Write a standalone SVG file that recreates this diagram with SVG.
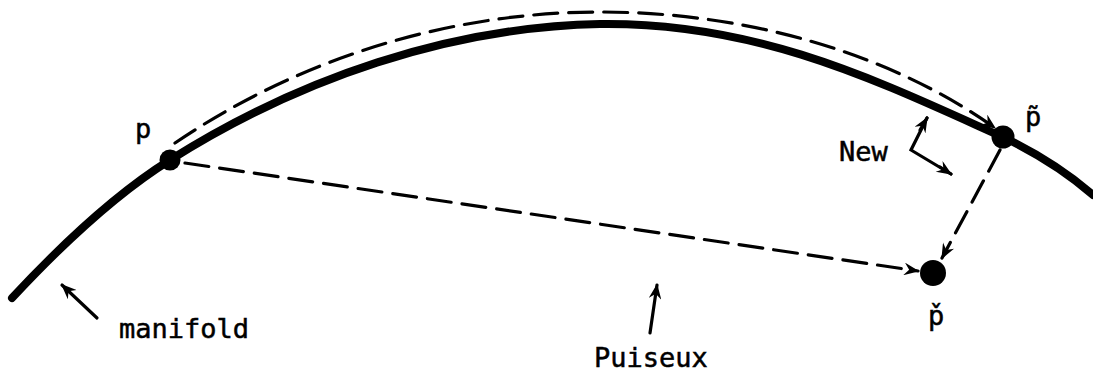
<svg xmlns="http://www.w3.org/2000/svg" width="1093" height="382" viewBox="0 0 1093 382">
<style>
.lbl{font-family:"DejaVu Sans Mono","Liberation Mono",monospace;font-size:27px;fill:#000;stroke:#000;stroke-width:0.5}
.dash{fill:none;stroke:#000;stroke-width:3.2;stroke-dasharray:24 11;stroke-linecap:round}
.thin{fill:none;stroke:#000;stroke-width:3.2;stroke-linecap:round}
</style>
<defs>
<marker id="ah" viewBox="0 0 12 10" refX="11" refY="5" markerWidth="5" markerHeight="4" orient="auto" markerUnits="strokeWidth">
<path d="M0,0 L12,5 L0,10 L4,5 Z" fill="#000"/>
</marker>
</defs>
<g id="connectors">
<path id="manifold-curve" d="M12,298 C80,225 130,185 170,160 C300,78 450,27 600,24 C760,22 880,82 1005,138 C1040,155 1070,175 1093,195" fill="none" stroke="#000" stroke-width="8" stroke-linecap="round"/>
<path d="M175,143 C300,58 450,12 600,12 C760,12 900,60 995,128" class="dash" marker-end="url(#ah)"/>
<path d="M185,163 L918,271" class="dash" marker-end="url(#ah)"/>
<path d="M1000,150 L942,258" class="dash" marker-end="url(#ah)"/>
<path d="M97,318 L62,285" class="thin" marker-end="url(#ah)"/>
<path d="M650,333 L657,285" class="thin" marker-end="url(#ah)"/>
<path d="M927,118 L911,150 L951,174" class="thin"/>
<path d="M920,130 L927,118" class="thin" marker-end="url(#ah)"/>
<path d="M940,167 L951,174" class="thin" marker-end="url(#ah)"/>
</g>
<g id="node-p">
<circle cx="170" cy="160" r="10.5" fill="#000"/>
<text class="lbl" x="135" y="138">p</text>
</g>
<g id="node-ptilde">
<circle cx="1003" cy="137" r="11.5" fill="#000"/>
<text class="lbl" x="1025" y="126">p̃</text>
</g>
<g id="node-pcheck">
<circle cx="933" cy="273" r="13" fill="#000"/>
<text class="lbl" x="928" y="325">p̌</text>
</g>
<g id="label-new"><text class="lbl" x="839" y="161">New</text></g>
<g id="label-manifold"><text class="lbl" x="119" y="338">manifold</text></g>
<g id="label-puiseux"><text class="lbl" x="594" y="367">Puiseux</text></g>
</svg>
